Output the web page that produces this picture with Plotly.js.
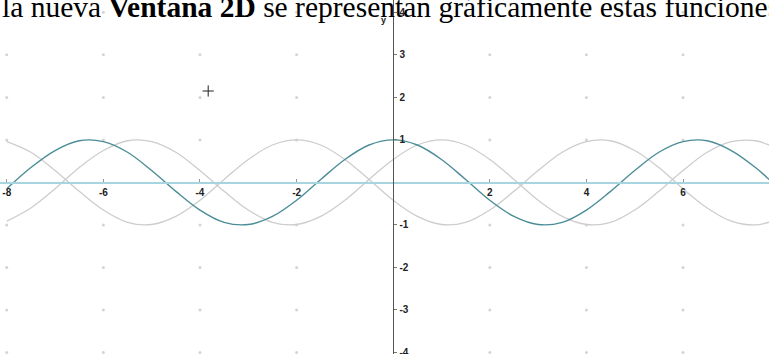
<!DOCTYPE html>
<html>
<head>
<meta charset="utf-8">
<script src="https://cdn.plot.ly/plotly-3.0.1.min.js"></script>
<style>
  html, body { margin: 0; padding: 0; background: #ffffff; }
  #chart { width: 769px; height: 354px; }
</style>
</head>
<body>
<div id="chart"></div>
<script>
// Sample abscissas shared by the three curves
const xs = [-8, -7.5, -7, -6.5, -6, -5.5, -5, -4.5, -4, -3.5, -3, -2.5, -2, -1.5, -1, -0.5,
            0, 0.5, 1, 1.5, 2, 2.5, 3, 3.5, 4, 4.5, 5, 5.5, 6, 6.5, 7, 7.5, 7.8];

// f(x) = cos(x)
const fValues = [-0.15, 0.35, 0.75, 0.98, 0.96, 0.71, 0.28, -0.21, -0.65, -0.94, -0.99, -0.80, -0.42, 0.07, 0.54, 0.88,
                 1.00, 0.88, 0.54, 0.07, -0.42, -0.80, -0.99, -0.94, -0.65, -0.21, 0.28, 0.71, 0.96, 0.98, 0.75, 0.35, 0.05];

// g(x) = cos(x + 2)
const gValues = [0.96, 0.71, 0.28, -0.21, -0.65, -0.94, -0.99, -0.80, -0.42, 0.07, 0.54, 0.88, 1.00, 0.88, 0.54, 0.07,
                 -0.42, -0.80, -0.99, -0.94, -0.65, -0.21, 0.28, 0.71, 0.96, 0.98, 0.75, 0.35, -0.15, -0.60, -0.91, -1.00, -0.93];

// h(x) = cos(x - 1)
const hValues = [-0.91, -0.60, -0.15, 0.35, 0.75, 0.98, 0.96, 0.71, 0.28, -0.21, -0.65, -0.94, -0.99, -0.80, -0.42, 0.07,
                 0.54, 0.88, 1.00, 0.88, 0.54, 0.07, -0.42, -0.80, -0.99, -0.94, -0.65, -0.21, 0.28, 0.71, 0.96, 0.98, 0.87];

// Axis tick labels
const xTicks = [-8, -6, -4, -2, 2, 4, 6];
const xTickText = ["-8", "-6", "-4", "-2", "2", "4", "6"];
const yTicks = [-4, -3, -2, -1, 1, 2, 3, 4];
const yTickText = ["-4", "-3", "-2", "-1", "1", "2", "3", "4"];

// Cursor position marked on the window
const cursorX = [-3.83];
const cursorY = [2.15];

const xRange = [-8.14, 7.78];
const yRange = [-4.035, 4.29];

// Faint reference dots at the grid points
const dotX = [], dotY = [];
xTicks.forEach(function (gx) {
  yTicks.forEach(function (gy) { dotX.push(gx); dotY.push(gy); });
});

const curveGray = '#cdcdcd';

const traces = [
  { x: dotX, y: dotY, mode: 'markers', hoverinfo: 'skip',
    marker: { size: 3, color: '#d4d4d4' } },
  { x: xs, y: gValues, mode: 'lines', line: { color: curveGray, width: 1.3, shape: 'spline' } },
  { x: xs, y: hValues, mode: 'lines', line: { color: curveGray, width: 1.3, shape: 'spline' } },
  { x: xs, y: fValues, mode: 'lines', line: { color: '#4b8d97', width: 1.4, shape: 'spline' } },
  { x: cursorX, y: cursorY, mode: 'markers',
    marker: { symbol: 'cross-thin-open', size: 8, color: '#222222', line: { color: '#222222', width: 1 } } }
];

const xPos = (0 - yRange[0]) / (yRange[1] - yRange[0]);
const yPos = (0 - xRange[0]) / (xRange[1] - xRange[0]);

const tickFont = { family: 'Liberation Sans, Arial, sans-serif', size: 10, color: '#222222', weight: 'bold' };

const layout = {
  width: 769,
  height: 354,
  margin: { l: 0, r: 0, t: 0, b: 0, pad: 0 },
  paper_bgcolor: '#ffffff',
  plot_bgcolor: '#ffffff',
  showlegend: false,
  xaxis: {
    range: xRange,
    anchor: 'free',
    position: xPos,
    showgrid: false,
    zeroline: false,
    showline: true,
    linecolor: '#a6d4df',
    linewidth: 1.5,
    tickmode: 'array',
    tickvals: xTicks,
    ticktext: xTickText,
    ticks: 'inside',
    ticklen: 3,
    tickcolor: '#999999',
    tickfont: tickFont,
    ticklabelstandoff: 0,
    ticklabeloverflow: 'allow'
  },
  yaxis: {
    range: yRange,
    anchor: 'free',
    position: yPos,
    side: 'right',
    showgrid: false,
    zeroline: false,
    showline: true,
    linecolor: '#555555',
    linewidth: 1.2,
    tickmode: 'array',
    tickvals: yTicks,
    ticktext: yTickText,
    ticks: 'outside',
    ticklen: 3,
    tickcolor: '#777777',
    tickfont: tickFont,
    ticklabeloverflow: 'allow'
  },
  annotations: [
    { xref: 'paper', yref: 'paper', x: 0, y: 1, xanchor: 'left', yanchor: 'top',
      yshift: 11, showarrow: false, align: 'left',
      text: 'la nueva <b>Ventana 2D</b> se representan gráficamente estas funciones',
      font: { family: 'Liberation Serif, Times New Roman, serif', size: 29.5, color: '#000000' } },
    { xref: 'x', yref: 'y', x: 0, y: 4, xanchor: 'right', yanchor: 'top', xshift: -5, yshift: -1,
      showarrow: false, text: 'y',
      font: { family: 'Liberation Sans, Arial, sans-serif', size: 9, color: '#222222', weight: 'bold' } }
  ]
};

Plotly.newPlot('chart', traces, layout, { displayModeBar: false, staticPlot: true });
</script>
</body>
</html>
